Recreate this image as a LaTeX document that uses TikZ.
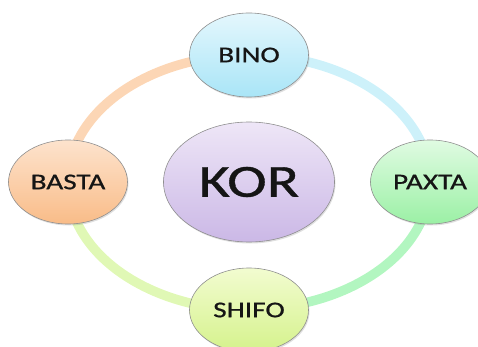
\documentclass[tikz,border=0pt]{standalone}
\usepackage{fontspec}
\setmainfont{Carlito}[FakeStretch=1.3,FakeBold=0.8]
\usetikzlibrary{shapes.geometric,shadows,backgrounds}

\definecolor{binotop}{HTML}{E4F7FD}
\definecolor{binobot}{HTML}{A9E5F7}
\definecolor{paxtatop}{HTML}{E0FBE2}
\definecolor{paxtabot}{HTML}{9BF0A5}
\definecolor{shifotop}{HTML}{F2FCD0}
\definecolor{shifobot}{HTML}{D5F28C}
\definecolor{bastatop}{HTML}{FDE3CD}
\definecolor{bastabot}{HTML}{F9BC88}
\definecolor{kortop}{HTML}{EEE6F7}
\definecolor{korbot}{HTML}{CBB8E6}
\definecolor{ringcyan}{HTML}{CDF1FA}
\definecolor{ringgreen}{HTML}{B2F6C0}
\definecolor{ringlime}{HTML}{E0F8B5}
\definecolor{ringpeach}{HTML}{FCD6B5}
\definecolor{edgegray}{HTML}{8F8F8F}
\definecolor{inkcol}{HTML}{151515}

\begin{document}
\begin{tikzpicture}[x=1pt,y=-1pt]
\tikzstyle{every node}=[ellipse, draw=edgegray, line width=.6pt, inner sep=0pt, text=inkcol,
  drop shadow={opacity=.25, shadow xshift=1pt, shadow yshift=-1.5pt}]
\tikzstyle{petal}=[minimum width=119pt, minimum height=84pt, font=\fontsize{22.5}{27}\selectfont]
\tikzstyle{ring}=[line width=9.5pt]
\clip (0,0) rectangle (478,347);
\node (kor) at (249,182) [minimum width=171pt, minimum height=120pt, top color=kortop, bottom color=korbot, font=\fontsize{46}{52}\selectfont] {KOR};
\node (bino) at (249,55) [petal, top color=binotop, bottom color=binobot] {BINO};
\node (paxta) at (430,182) [petal, top color=paxtatop, bottom color=paxtabot] {PAXTA};
\node (shifo) at (249,310) [petal, top color=shifotop, bottom color=shifobot] {SHIFO};
\node (basta) at (68,182) [petal, top color=bastatop, bottom color=bastabot] {BASTA};
\begin{pgfonlayer}{background}
\draw[ring, ringcyan] (bino.center) arc[start angle=90, end angle=0, x radius=181pt, y radius=127pt];
\draw[ring, ringgreen] (paxta.center) arc[start angle=0, end angle=-90, x radius=181pt, y radius=127pt];
\draw[ring, ringlime] (shifo.center) arc[start angle=270, end angle=180, x radius=181pt, y radius=127pt];
\draw[ring, ringpeach] (basta.center) arc[start angle=180, end angle=90, x radius=181pt, y radius=127pt];
\end{pgfonlayer}
\end{tikzpicture}
\end{document}
